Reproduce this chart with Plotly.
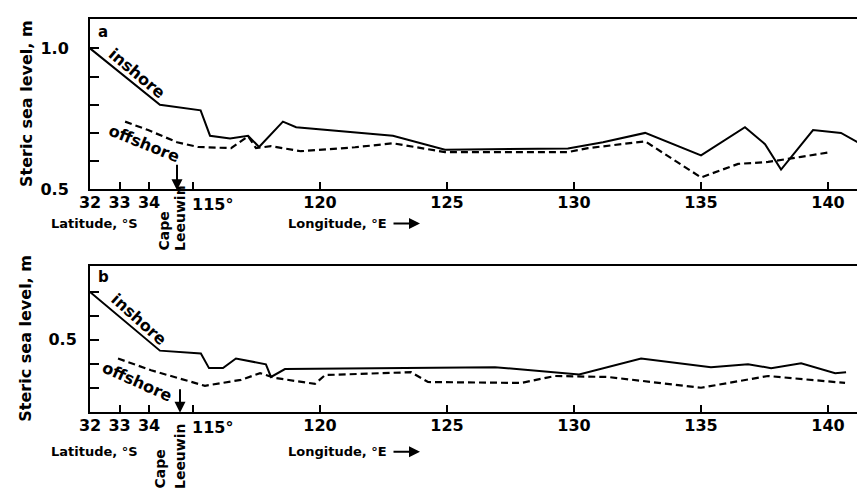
import plotly.graph_objects as go

# ---------------- data ----------------
# West coast part of the track is given in latitude (°S), south coast part in longitude (°E)
inshore_a_lat = [32.0, 34.37]
inshore_a_lat_val = [1.00, 0.80]
inshore_a_lon = [115.3, 115.67, 116.46, 117.17, 117.6, 118.54, 119.06, 122.87, 124.92,
                 129.76, 131.14, 132.8, 135.0, 136.73, 137.52, 138.15, 139.41, 140.51, 141.5]
inshore_a_lon_val = [0.78, 0.69, 0.68, 0.69, 0.65, 0.74, 0.72, 0.69, 0.64,
                     0.645, 0.667, 0.70, 0.62, 0.72, 0.66, 0.57, 0.71, 0.70, 0.65]

offshore_a_lat = [33.19, 33.97, 34.95]
offshore_a_lat_val = [0.74, 0.71, 0.667]
offshore_a_lon = [115.2, 116.5, 117.17, 117.48, 118.07, 119.25, 121.38, 122.87, 124.92,
                  129.76, 130.55, 132.8, 135.0, 136.46, 137.64, 138.94, 140.12]
offshore_a_lon_val = [0.65, 0.646, 0.688, 0.646, 0.653, 0.635, 0.649, 0.663, 0.632,
                      0.632, 0.646, 0.67, 0.542, 0.59, 0.597, 0.615, 0.632]

inshore_b_lat = [32.0, 34.37]
inshore_b_lat_val = [0.70, 0.455]
inshore_b_lon = [115.31, 115.63, 116.18, 116.69, 117.87, 118.07, 118.62, 122.68, 126.89,
                 130.2, 132.64, 135.39, 136.85, 137.76, 138.94, 140.28, 140.71]
inshore_b_lon_val = [0.443, 0.382, 0.382, 0.422, 0.398, 0.345, 0.378, 0.382, 0.386,
                     0.355, 0.422, 0.386, 0.398, 0.382, 0.402, 0.361, 0.365]

offshore_b_lat = [32.95, 34.07]
offshore_b_lat_val = [0.422, 0.373]
offshore_b_lon = [115.47, 116.89, 117.64, 118.23, 119.8, 120.2, 123.58, 124.25, 127.91,
                  129.25, 131.34, 135.0, 137.64, 140.67]
offshore_b_lon_val = [0.308, 0.333, 0.361, 0.341, 0.316, 0.353, 0.365, 0.324, 0.320,
                      0.349, 0.345, 0.30, 0.349, 0.320]

lat_ticks = [32, 33, 34]
lon_ticks = [115, 120, 125, 130, 135, 140]
lon_tick_labels = ["", "120", "125", "130", "135", "140"]
ya_ticks = [0.5, 0.6, 0.7, 0.8, 0.9, 1.0]
ya_labels = ["0.5", "", "", "", "", "1.0"]
yb_ticks = [0.2, 0.3, 0.4, 0.5, 0.6, 0.7]
yb_labels = ["", "", "", "0.5", "", ""]

# ---------------- along-coast axis ----------------
U32 = 110.945        # axis position of 32°S
LAT_SCALE = 1.1614   # axis units per degree of latitude
X_RANGE = [U32, 141.77]


def lat_to_u(lat):
    return U32 + (lat - 32.0) * LAT_SCALE


def track(lat, lat_val, lon, lon_val):
    return [lat_to_u(v) for v in lat] + list(lon), list(lat_val) + list(lon_val)


W, H, L = 865, 495, 82


def px(xp):
    return (xp - L) / (W - L)


def py(yp):
    return 1 - yp / H


FONT = "DejaVu Sans, Liberation Sans, Arial, sans-serif"

fig = go.Figure()
line_solid = dict(color="black", width=2)
line_dash = dict(color="black", width=2.2, dash="7px,4px")

for (lat, latv, lon, lonv, ln, xa, ya) in [
    (inshore_a_lat, inshore_a_lat_val, inshore_a_lon, inshore_a_lon_val, line_solid, "x", "y"),
    (offshore_a_lat, offshore_a_lat_val, offshore_a_lon, offshore_a_lon_val, line_dash, "x", "y"),
    (inshore_b_lat, inshore_b_lat_val, inshore_b_lon, inshore_b_lon_val, line_solid, "x2", "y2"),
    (offshore_b_lat, offshore_b_lat_val, offshore_b_lon, offshore_b_lon_val, line_dash, "x2", "y2"),
]:
    xs, ys = track(lat, latv, lon, lonv)
    fig.add_trace(go.Scatter(x=xs, y=ys, mode="lines", line=ln, xaxis=xa, yaxis=ya,
                             showlegend=False, hoverinfo="skip"))

x_tickvals = [lat_to_u(v) for v in lat_ticks] + lon_ticks
x_ticktext = [str(v) for v in lat_ticks] + lon_tick_labels

xaxis_common = dict(range=X_RANGE, showline=True, linewidth=2, linecolor="black", mirror=True,
                    ticks="inside", ticklen=7, tickwidth=1.5, tickcolor="black",
                    tickmode="array", tickvals=x_tickvals, ticktext=x_ticktext,
                    tickfont=dict(family=FONT, size=16, color="black", weight="bold"),
                    showgrid=False, zeroline=False, ticklabelstandoff=-2)
yaxis_common = dict(showline=True, linewidth=2, linecolor="black", mirror=False,
                    ticks="inside", ticklen=9, tickwidth=1.5, tickcolor="black",
                    tickmode="array",
                    tickfont=dict(family=FONT, size=16, color="black", weight="bold"),
                    showgrid=False, zeroline=False)

fig.update_layout(
    width=W, height=H,
    margin=dict(l=L, r=0, t=0, b=0),
    paper_bgcolor="white", plot_bgcolor="white",
    font=dict(family=FONT, color="black", weight="bold"),
    xaxis=dict(domain=[0, 1], anchor="y", **xaxis_common),
    yaxis=dict(domain=[py(185), py(11)], range=[0.5, 1.105], anchor="x",
               tickvals=ya_ticks, ticktext=ya_labels, ticklabelstandoff=16, **yaxis_common),
    xaxis2=dict(domain=[0, 1], anchor="y2", **xaxis_common),
    yaxis2=dict(domain=[py(412), py(263)], range=[0.2, 0.81], anchor="x2",
                tickvals=yb_ticks, ticktext=yb_labels, ticklabelstandoff=8, **yaxis_common),
)

ann = []


def text(t, x, y, size=15, angle=0, xanchor="center", yanchor="middle"):
    ann.append(dict(text=t, x=px(x), y=py(y), xref="paper", yref="paper", showarrow=False,
                    textangle=angle, xanchor=xanchor, yanchor=yanchor,
                    font=dict(family=FONT, size=size, color="black", weight="bold")))


def arrow(x_tip, y_tip, x_tail, y_tail):
    ann.append(dict(text="", x=px(x_tip), y=py(y_tip), xref="paper", yref="paper",
                    showarrow=True, ax=x_tail - x_tip, ay=y_tail - y_tip,
                    axref="pixel", ayref="pixel",
                    arrowhead=2, arrowsize=1.1, arrowwidth=2, arrowcolor="black"))


for (top, bot, lab_y, title_y, lbl, panel_y, ins, offs, cape_x, leeu_x, cape_bot, arrow_x, arrow_top) in [
    (11, 185, 201, 220, "a", 24, (129, 67, 40), (136, 138, 22), 156, 172, 250, 169, 159),
    (263, 412, 428, 453, "b", 275, (131, 318, 42), (129, 381, 24), 152, 172, 493, 172, 388),
]:
    text(lbl, 95, panel_y, size=15)
    text("Steric sea level, m", 18, (top + bot) / 2, size=16, angle=-90)
    text("Latitude, °S", 86, title_y, size=13)
    text("Longitude, °E", 278, title_y, size=13, xanchor="left")
    arrow(412, title_y, 384, title_y)
    text("115°", 182, lab_y, size=16, xanchor="left")
    text("inshore", ins[0], ins[1], size=16, angle=ins[2])
    text("offshore", offs[0], offs[1], size=16, angle=offs[2])
    text("Cape", cape_x, cape_bot, size=14, angle=-90, yanchor="bottom")
    text("Leeuwin", leeu_x, cape_bot, size=14, angle=-90, yanchor="bottom")
    arrow(arrow_x, bot + 1, arrow_x, arrow_top)

fig.update_layout(annotations=ann)
fig.write_html("out.html")
